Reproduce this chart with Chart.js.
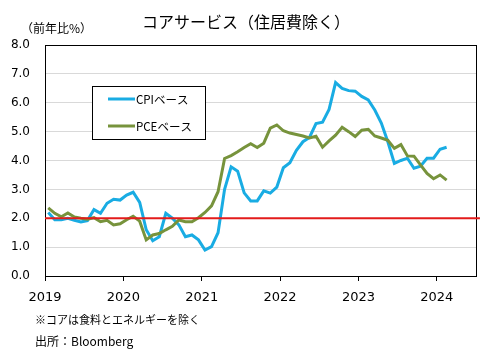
<!DOCTYPE html>
<html>
<head>
<meta charset="utf-8">
<script src="https://cdn.jsdelivr.net/npm/chart.js@4/dist/chart.umd.min.js"></script>
<style>
  html, body { margin: 0; padding: 0; background: #fff; }
  #wrap { width: 492px; height: 356px; position: relative; }
</style>
</head>
<body>
<div id="wrap"><canvas id="c" width="492" height="356"></canvas></div>
<script>
// ---- data (monthly, Jan 2019 - Feb 2024) ----
const years = ['2019', '2020', '2021', '2022', '2023', '2024'];
const cpiLabel = 'CPIベース';
const pceLabel = 'PCEベース';
const cpiValues = [
  2.20, 1.95, 1.95, 2.00, 1.93, 1.87, 1.92, 2.30, 2.17, 2.52, 2.66, 2.63,
  2.80, 2.90, 2.55, 1.60, 1.22, 1.36, 2.17, 2.00, 1.77, 1.36, 1.42, 1.25,
  0.90, 1.02, 1.50, 3.00, 3.78, 3.63, 2.88, 2.60, 2.60, 2.95, 2.87, 3.08,
  3.75, 3.92, 4.35, 4.65, 4.80, 5.28, 5.33, 5.77, 6.70, 6.50, 6.42, 6.40,
  6.22, 6.10, 5.75, 5.30, 4.65, 3.90, 4.00, 4.08, 3.73, 3.80, 4.08, 4.08,
  4.39, 4.46
];
const pceValues = [
  2.36, 2.17, 2.05, 2.18, 2.04, 2.00, 1.97, 2.02, 1.88, 1.93, 1.77, 1.81,
  1.95, 2.07, 1.90, 1.25, 1.42, 1.47, 1.60, 1.72, 1.94, 1.88, 1.88, 2.02,
  2.20, 2.43, 2.92, 4.07, 4.17, 4.30, 4.45, 4.58, 4.45, 4.60, 5.12, 5.23,
  5.03, 4.95, 4.90, 4.85, 4.78, 4.84, 4.46, 4.68, 4.88, 5.15, 5.00, 4.83,
  5.05, 5.08, 4.85, 4.78, 4.70, 4.42, 4.55, 4.16, 4.15, 3.85, 3.55, 3.37,
  3.50, 3.32
];
const targetValue = 2.0;
const yTicks = [0, 1, 2, 3, 4, 5, 6, 7, 8];

// ---- texts ----
const titleText = 'コアサービス（住居費除く）';
const unitText = '（前年比%）';
const noteText = '※コアは食料とエネルギーを除く';
const sourceText = '出所：Bloomberg';

const JP = '"Noto Sans CJK JP", "Noto Sans", sans-serif';
const NUM = '"DejaVu Sans", sans-serif';
const BLUE = '#19ACE3';
const GREEN = '#77933C';
const RED = '#E31B1B';

const toPoints = arr => arr.map((v, i) => ({ x: i + 0.5, y: v }));

const overlay = {
  id: 'overlay',
  beforeDatasetsDraw(chart) {
    const ctx = chart.ctx, a = chart.chartArea;
    ctx.save();
    ctx.strokeStyle = '#000';
    ctx.lineWidth = 1;
    ctx.beginPath();
    ctx.moveTo(a.left, a.top + 0.5);
    ctx.lineTo(a.right + 0.5, a.top + 0.5);
    ctx.moveTo(a.right + 0.5, a.top);
    ctx.lineTo(a.right + 0.5, a.bottom);
    ctx.stroke();
    ctx.restore();
  },
  afterDraw(chart) {
    const ctx = chart.ctx;
    ctx.save();
    ctx.fillStyle = '#000';
    ctx.textBaseline = 'middle';
    ctx.font = '16px ' + JP;
    ctx.textAlign = 'center';
    ctx.fillText(titleText, 246, 22);
    ctx.textAlign = 'left';
    ctx.font = '12px ' + JP;
    ctx.fillText(unitText, 21, 28);
    ctx.font = '11px ' + JP;
    ctx.fillText(noteText, 35, 320);
    ctx.font = '12px ' + JP;
    ctx.fillText(sourceText, 35, 341);

    // legend box
    const bx = 92, by = 86, bw = 113, bh = 53;
    ctx.fillStyle = '#fff';
    ctx.fillRect(bx, by, bw, bh);
    ctx.strokeStyle = '#000';
    ctx.lineWidth = 1;
    ctx.strokeRect(bx + 0.5, by + 0.5, bw, bh);
    const items = chart.data.datasets.filter(d => d.inLegend);
    const rows = [99, 126];
    items.forEach((d, k) => {
      const y = rows[k];
      ctx.strokeStyle = d.borderColor;
      ctx.lineWidth = 3;
      ctx.beginPath();
      ctx.moveTo(108, y);
      ctx.lineTo(135, y);
      ctx.stroke();
      ctx.fillStyle = '#000';
      ctx.font = '11.5px ' + JP;
      ctx.textAlign = 'left';
      ctx.fillText(d.label, 136, y + 1);
    });
    ctx.restore();
  }
};

new Chart(document.getElementById('c'), {
  type: 'line',
  data: {
    datasets: [
      {
        label: '2%',
        data: [{ x: 0, y: targetValue }, { x: 66.6, y: targetValue }],
        borderColor: RED, borderWidth: 2, pointRadius: 0, order: 0, clip: false, inLegend: false
      },
      {
        label: cpiLabel, data: toPoints(cpiValues),
        borderColor: BLUE, borderWidth: 3, pointRadius: 0, tension: 0, order: 2, inLegend: true
      },
      {
        label: pceLabel, data: toPoints(pceValues),
        borderColor: GREEN, borderWidth: 3, pointRadius: 0, tension: 0, order: 1, inLegend: true
      }
    ]
  },
  options: {
    responsive: false,
    animation: false,
    devicePixelRatio: 1,
    layout: { padding: { top: 45, right: 16, bottom: 0, left: 0 } },
    plugins: { legend: { display: false }, tooltip: { enabled: false }, title: { display: false } },
    scales: {
      x: {
        type: 'linear', min: 0, max: 66,
        afterFit: s => { s.height = 80; },
        ticks: {
          stepSize: 12, includeBounds: false, autoSkip: false, maxRotation: 0,
          color: '#000', font: { family: NUM, size: 13 }, padding: 9,
          callback: v => (v % 12 === 0 ? years[v / 12] : '')
        },
        grid: { drawOnChartArea: false, drawTicks: true, tickLength: 5, color: '#000' },
        border: { display: true, color: '#000', width: 1 }
      },
      y: {
        min: 0, max: 8,
        afterFit: s => { s.width = 45; },
        afterBuildTicks: s => { s.ticks = yTicks.map(v => ({ value: v })); },
        ticks: {
          color: '#000', font: { family: NUM, size: 12 }, padding: 15,
          callback: v => Number(v).toFixed(1)
        },
        grid: { color: '#D9D9D9', drawTicks: false, tickLength: 0 },
        border: { display: true, color: '#000', width: 1 }
      }
    }
  },
  plugins: [overlay]
});
</script>
</body>
</html>
